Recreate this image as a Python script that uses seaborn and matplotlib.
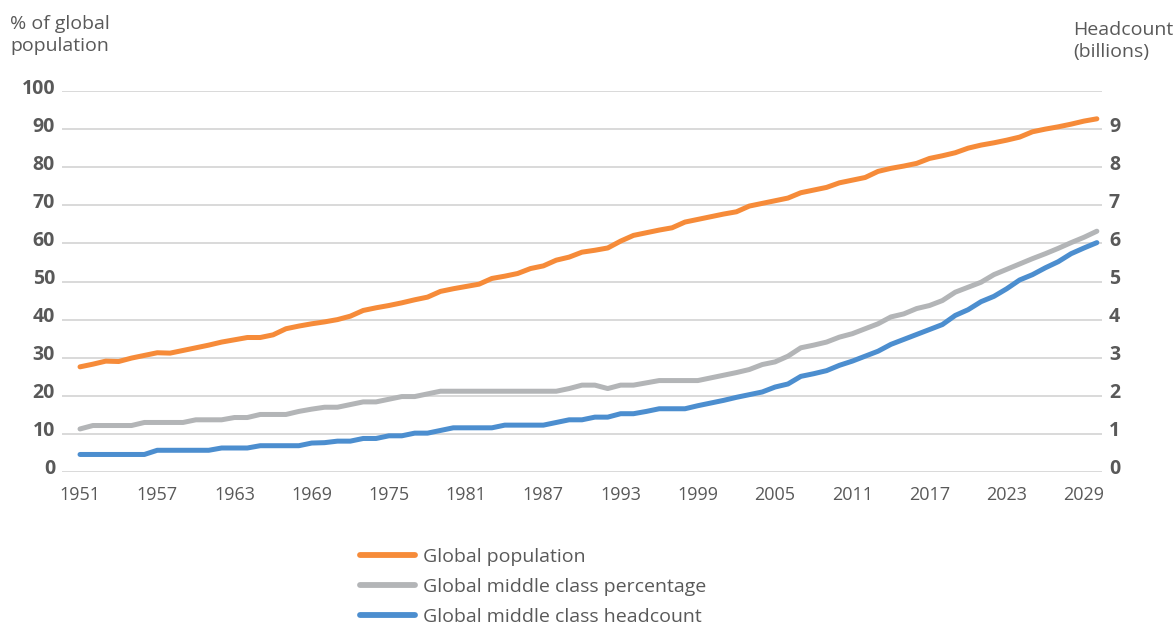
import matplotlib
matplotlib.use("Agg")
import matplotlib.pyplot as plt
import matplotlib.transforms as mtransforms
from matplotlib.lines import Line2D
import seaborn as sns
import pandas as pd

years = list(range(1951, 2031))

population_bn = [
    2.76, 2.83, 2.91, 2.90, 2.99, 3.06, 3.13, 3.12, 3.19, 3.26,
    3.33, 3.41, 3.47, 3.53, 3.53, 3.60, 3.76, 3.83, 3.89, 3.94,
    4.00, 4.09, 4.24, 4.31, 4.37, 4.44, 4.52, 4.59, 4.74, 4.81,
    4.87, 4.93, 5.08, 5.14, 5.21, 5.34, 5.41, 5.56, 5.64, 5.77,
    5.82, 5.88, 6.06, 6.21, 6.28, 6.35, 6.41, 6.56, 6.63, 6.70,
    6.77, 6.83, 6.98, 7.05, 7.12, 7.19, 7.33, 7.40, 7.47, 7.59,
    7.66, 7.73, 7.89, 7.97, 8.03, 8.10, 8.23, 8.30, 8.38, 8.50,
    8.58, 8.64, 8.71, 8.79, 8.93, 9.00, 9.06, 9.13, 9.21, 9.27,
]

middle_class_pct = [
    11.3, 12.2, 12.2, 12.2, 12.2, 13.0, 13.0, 13.0, 13.0, 13.7,
    13.7, 13.7, 14.3, 14.3, 15.1, 15.1, 15.1, 15.9, 16.5, 17.0,
    17.0, 17.7, 18.4, 18.4, 19.1, 19.8, 19.8, 20.5, 21.2, 21.2,
    21.2, 21.2, 21.2, 21.2, 21.2, 21.2, 21.2, 21.2, 21.9, 22.8,
    22.8, 21.9, 22.8, 22.8, 23.4, 24.0, 24.0, 24.0, 24.0, 24.7,
    25.4, 26.1, 26.9, 28.2, 28.9, 30.4, 32.6, 33.3, 34.1, 35.4,
    36.3, 37.6, 38.9, 40.7, 41.5, 42.9, 43.7, 45.0, 47.2, 48.5,
    49.8, 51.8, 53.2, 54.6, 56.0, 57.3, 58.7, 60.2, 61.6, 63.2,
]

middle_class_headcount_bn = [
    0.46, 0.46, 0.46, 0.46, 0.46, 0.46, 0.57, 0.57, 0.57, 0.57,
    0.57, 0.63, 0.63, 0.63, 0.69, 0.69, 0.69, 0.69, 0.76, 0.77,
    0.81, 0.81, 0.88, 0.88, 0.95, 0.95, 1.02, 1.02, 1.09, 1.16,
    1.16, 1.16, 1.16, 1.23, 1.23, 1.23, 1.23, 1.30, 1.37, 1.37,
    1.44, 1.44, 1.53, 1.53, 1.59, 1.66, 1.66, 1.66, 1.74, 1.81,
    1.88, 1.96, 2.03, 2.10, 2.23, 2.31, 2.51, 2.58, 2.66, 2.80,
    2.91, 3.04, 3.17, 3.35, 3.48, 3.61, 3.74, 3.87, 4.11, 4.26,
    4.47, 4.61, 4.81, 5.04, 5.18, 5.36, 5.52, 5.73, 5.88, 6.02,
]

series_labels = ["Global population", "Global middle class percentage",
                 "Global middle class headcount"]
x_ticks = list(range(1951, 2030, 6))
left_ticks = list(range(0, 101, 10))
right_ticks = list(range(0, 10))

ORANGE = "#F68B39"
GREY = "#B3B5B7"
BLUE = "#4C8ECF"
TEXT = "#595959"
GRID = "#D9D9D9"

sns.set_theme(style="white")
plt.rcParams["font.family"] = ["Open Sans", "DejaVu Sans"]

df = pd.DataFrame({"year": years, "pop": population_bn,
                   "pct": middle_class_pct, "head": middle_class_headcount_bn})

fig = plt.figure(figsize=(11.74, 6.30), dpi=100)
ax = fig.add_axes([62 / 1174, 1 - 472 / 630, (1102 - 62) / 1174, (472 - 91) / 630])
ax2 = ax.twinx()

lw = 3.6
sns.lineplot(data=df, x="year", y="pct", ax=ax, color=GREY, lw=lw, zorder=3)
sns.lineplot(data=df, x="year", y="pop", ax=ax2, color=ORANGE, lw=lw, zorder=3)
sns.lineplot(data=df, x="year", y="head", ax=ax2, color=BLUE, lw=lw, zorder=3)

ax.set_xlim(1949.6, 2030.4)
ax.set_ylim(0, 100)
ax2.set_ylim(0, 10)

ax.set_yticks(left_ticks)
ax.set_yticklabels([str(v) for v in left_ticks], fontsize=14, fontweight="bold", color=TEXT)
ax2.set_yticks(right_ticks)
ax2.set_yticklabels([str(v) for v in right_ticks], fontsize=14, fontweight="bold", color=TEXT)
ax.set_xticks(x_ticks)
ax.set_xticklabels([str(v) for v in x_ticks], fontsize=13, color=TEXT)

ax.grid(axis="y", color=GRID, lw=1.4, zorder=0)
ax.grid(axis="x", visible=False)
ax2.grid(False)
for a in (ax, ax2):
    for s in a.spines.values():
        s.set_visible(False)
    a.set_xlabel("")
    a.set_ylabel("")
ax.tick_params(axis="y", length=0, pad=5)
ax2.tick_params(axis="y", length=0, pad=5)
ax.tick_params(axis="x", length=0, pad=10)

off = mtransforms.ScaledTranslation(0, 5 / 100, fig.dpi_scale_trans)
for lab in ax.get_yticklabels() + ax2.get_yticklabels():
    lab.set_transform(lab.get_transform() + off)

fig.text(10 / 1174, 1 - 15 / 630, "% of global\npopulation", ha="left", va="top",
         fontsize=14, color=TEXT, linespacing=1.32)
fig.text(1073 / 1174, 1 - 21 / 630, "Headcount\n(billions)", ha="left", va="top",
         fontsize=14, color=TEXT, linespacing=1.32)

handles = [Line2D([0], [0], color=c, lw=4.2, solid_capstyle="round")
           for c in (ORANGE, GREY, BLUE)]
leg = fig.legend(handles, series_labels, loc="upper left",
                 bbox_to_anchor=(360 / 1174, 1 - 548 / 630), frameon=False,
                 fontsize=14, handlelength=2.85, handletextpad=0.4,
                 labelspacing=0.62, borderpad=0, borderaxespad=0)
for t in leg.get_texts():
    t.set_color(TEXT)

fig.savefig("out.png", dpi=100)
